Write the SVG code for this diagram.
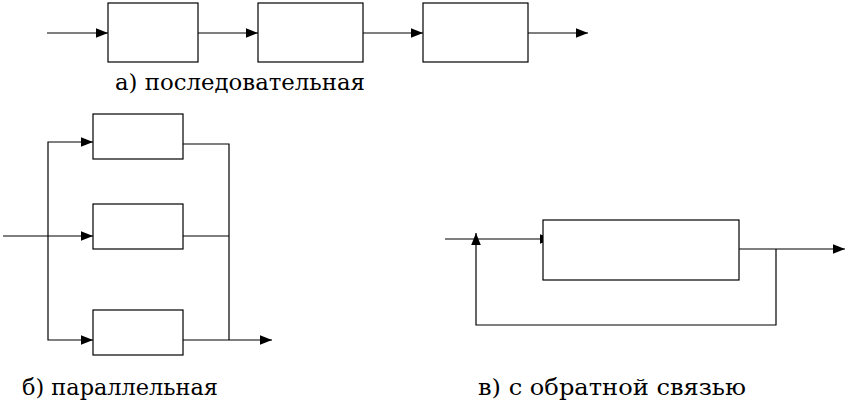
<svg xmlns="http://www.w3.org/2000/svg" width="846" height="403" viewBox="0 0 846 403">
<style>
.b{fill:#fff;stroke:#000;stroke-width:1.2}
.l{fill:none;stroke:#000;stroke-width:1.2}
.t{font-family:"DejaVu Serif",serif;font-size:23px;fill:#000}
</style>
<defs><marker id="a" viewBox="0 0 10 10" refX="10" refY="5" markerWidth="12" markerHeight="12" markerUnits="userSpaceOnUse" orient="auto"><path d="M0,1L10,5L0,9z" fill="#000"/></marker></defs>
<rect width="846" height="403" fill="#fff"/>
<g id="connectors">
<path class="l" d="M47,33H108" marker-end="url(#a)"/>
<path class="l" d="M198,33H258" marker-end="url(#a)"/>
<path class="l" d="M363,33H423" marker-end="url(#a)"/>
<path class="l" d="M528,33H588" marker-end="url(#a)"/>
<path class="l" d="M3,236H93" marker-end="url(#a)"/>
<path class="l" d="M48,236V142H93" marker-end="url(#a)"/>
<path class="l" d="M48,236V340H93" marker-end="url(#a)"/>
<path class="l" d="M183,144H229V340"/>
<path class="l" d="M183,236H229"/>
<path class="l" d="M183,340H272" marker-end="url(#a)"/>
<path class="l" d="M445,239H552" marker-end="url(#a)"/>
<path class="l" d="M739,249H845" marker-end="url(#a)"/>
<path class="l" d="M776,249V325H476V233" marker-end="url(#a)"/>
</g>
<g id="s1"><rect class="b" x="108" y="3" width="90" height="59"/></g>
<g id="s2"><rect class="b" x="258" y="3" width="105" height="59"/></g>
<g id="s3"><rect class="b" x="423" y="3" width="105" height="59"/></g>
<g id="p1"><rect class="b" x="93" y="114" width="90" height="45"/></g>
<g id="p2"><rect class="b" x="93" y="204" width="90" height="45"/></g>
<g id="p3"><rect class="b" x="93" y="310" width="90" height="45"/></g>
<g id="f1"><rect class="b" x="543" y="220" width="196" height="60"/></g>
<text class="t" x="115" y="90" textLength="250" lengthAdjust="spacingAndGlyphs">а) последовательная</text>
<text class="t" x="22" y="395" textLength="196" lengthAdjust="spacingAndGlyphs">б) параллельная</text>
<text class="t" x="478" y="395" textLength="268" lengthAdjust="spacingAndGlyphs">в) с обратной связью</text>
</svg>
